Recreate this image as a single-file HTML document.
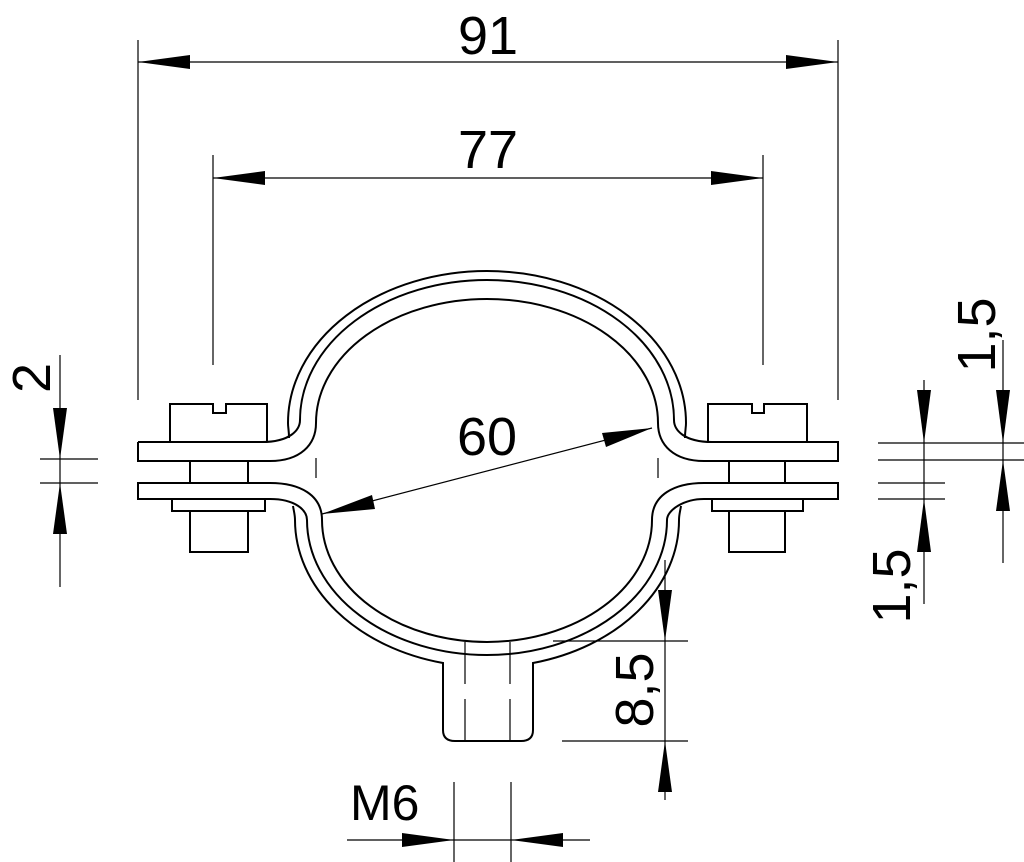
<!DOCTYPE html>
<html><head><meta charset="utf-8"><style>html,body{margin:0;padding:0;background:#fff}svg{display:block}</style></head>
<body>
<svg width="1024" height="862" viewBox="0 0 1024 862" xmlns="http://www.w3.org/2000/svg" font-family="Liberation Sans, sans-serif">
<g stroke="#000" fill="none" stroke-width="1.2">
<line x1="138" y1="40" x2="138" y2="400"/>
<line x1="838" y1="40" x2="838" y2="400"/>
<line x1="213" y1="155" x2="213" y2="365"/>
<line x1="763" y1="155" x2="763" y2="365"/>
<line x1="138" y1="62" x2="838" y2="62"/>
<line x1="213" y1="178" x2="763" y2="178"/>
<line x1="322" y1="514" x2="652" y2="428"/>
<line x1="60" y1="355" x2="60" y2="587"/>
<line x1="40" y1="459" x2="98" y2="459"/>
<line x1="40" y1="483" x2="98" y2="483"/>
<line x1="878" y1="443" x2="1024" y2="443"/>
<line x1="878" y1="460" x2="1024" y2="460"/>
<line x1="878" y1="483" x2="945" y2="483"/>
<line x1="878" y1="499" x2="945" y2="499"/>
<line x1="924" y1="380" x2="924" y2="604"/>
<line x1="1003" y1="340" x2="1003" y2="563"/>
<line x1="665" y1="560" x2="665" y2="800"/>
<line x1="553" y1="641" x2="688" y2="641"/>
<line x1="562" y1="741" x2="688" y2="741"/>
<line x1="454" y1="782" x2="454" y2="862"/>
<line x1="511" y1="782" x2="511" y2="862"/>
<line x1="347" y1="840" x2="590" y2="840"/>
</g>
<g fill="#000">
<polygon points="138,62 190,55 190,69"/>
<polygon points="838,62 786,55 786,69"/>
<polygon points="213,178 265,171 265,185"/>
<polygon points="763,178 711,171 711,185"/>
<polygon points="322,514 372,495 375,509"/>
<polygon points="652,428 602,433 606,447"/>
<polygon points="60,459 53,408 67,408"/>
<polygon points="60,483 53,534 67,534"/>
<polygon points="924,443 917,390 931,390"/>
<polygon points="924,499 917,552 931,552"/>
<polygon points="1003,443 996,390 1010,390"/>
<polygon points="1003,460 996,511 1010,511"/>
<polygon points="665,641 658,590 672,590"/>
<polygon points="665,741 658,792 672,792"/>
<polygon points="454,840 402,833 402,847"/>
<polygon points="511,840 563,833 563,847"/>
</g>
<g stroke="#000" fill="none" stroke-width="2">
<path d="M289,438 C289,430 288,428 288,423 A199 152 0 0 1 686,423 C686,428 685,430 685,438"/>
<path d="M138,442 L262,442 C290,442 300,430 300,420 A187 140 0 0 1 674,420 C674,430 684,442 712,442 L838,442 L838,461 L712,461"/>
<path d="M138,442 L138,461 L270,461 C300,461 316,445 316,423 A171 124 0 0 1 658,423 C658,445 674,461 704,461 L712,461"/>
<path d="M138,483 L270,483 C300,483 322,495 322,520 A165 122 0 0 0 652,520 C652,495 674,483 704,483 L838,483 L838,499 L704,499 C684,499 667,510 667,520 A180 135 0 0 1 307,520 C307,510 295,499 270,499 L138,499 Z"/>
<path d="M293,506 C294,512 295,515 295,520 A192 147 0 0 0 443,663 L443,730 Q443,741 455,741 L521,741 Q533,741 533,730 L533,663 A192 147 0 0 0 679,520 C679,515 680,512 681,506"/>
<path d="M170,442 L170,404 L213,404 L213,413 L226,413 L226,404 L267,404 L267,442"/>
<rect x="190" y="461" width="58" height="22"/>
<rect x="172" y="499" width="93" height="12"/>
<rect x="190" y="511" width="58" height="41"/>
<path d="M708,442 L708,404 L752,404 L752,413 L764,413 L764,404 L807,404 L807,442"/>
<rect x="729" y="461" width="56" height="22"/>
<rect x="712" y="499" width="91" height="12"/>
<rect x="729" y="511" width="56" height="41"/>
</g>
<g stroke="#000" stroke-width="1.2">
<line x1="465" y1="642" x2="465" y2="684"/><line x1="465" y1="699" x2="465" y2="741"/>
<line x1="510" y1="642" x2="510" y2="684"/><line x1="510" y1="699" x2="510" y2="741"/>
<line x1="316" y1="458" x2="316" y2="478"/>
<line x1="658" y1="458" x2="658" y2="478"/>
</g>
<g fill="#000" font-size="54">
<text x="488" y="54" text-anchor="middle">91</text>
<text x="488" y="168" text-anchor="middle">77</text>
<text x="487" y="455" text-anchor="middle">60</text>
<text x="350" y="820" font-size="50">M6</text>
<text transform="translate(50,378) rotate(-90)" text-anchor="middle">2</text>
<text transform="translate(995,335) rotate(-90)" text-anchor="middle">1,5</text>
<text transform="translate(910,586) rotate(-90)" text-anchor="middle">1,5</text>
<text transform="translate(653,690) rotate(-90)" text-anchor="middle">8,5</text>
</g>
</svg>
</body></html>
